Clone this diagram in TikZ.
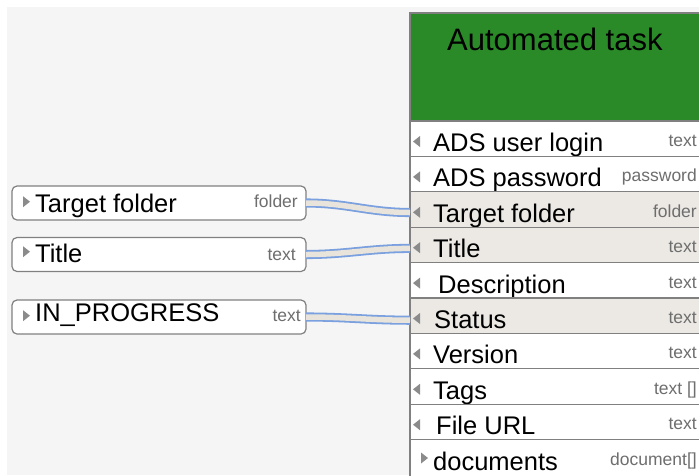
\documentclass[tikz,border=0pt]{standalone}
\usepackage{fontspec}
\setmainfont{Liberation Sans}
\usetikzlibrary{calc}

\definecolor{taskgreen}{RGB}{42,138,40}
\definecolor{canvas}{RGB}{245,245,245}
\definecolor{rowshade}{RGB}{236,233,229}
\definecolor{linegray}{RGB}{128,128,128}
\definecolor{typegray}{RGB}{110,110,110}
\definecolor{wireblue}{RGB}{122,160,224}
\definecolor{wirefill}{RGB}{232,228,220}

\begin{document}
\begin{tikzpicture}[x=1pt, y=-1pt,
    inbox/.style={draw=linegray, line width=1.2pt, rounded corners=5pt, fill=white,
                  minimum width=294pt, minimum height=34pt, anchor=north west, outer sep=0pt},
    rowbox/.style={draw=linegray, line width=1.2pt, minimum width=310pt, minimum height=35.4pt,
                   anchor=north west, outer sep=0pt, inner sep=0pt},
    label/.style={font=\fontsize{25.5}{28}\selectfont, inner sep=0pt, anchor=base west},
    type/.style={font=\fontsize{17.5}{19}\selectfont, text=typegray, inner sep=0pt, anchor=base east},
    tri/.style={fill=typegray!80},
    wire/.style={draw=wireblue, line width=1.8pt, double=wirefill, double distance=5.5pt}
]
    \useasboundingbox (0,0) rectangle (699,475);
    \clip (0,0) rectangle (699,475);
    \fill[white] (0,0) rectangle (699,475);
    \fill[canvas] (7,7) rectangle (699,475);

    % task panel
    \node[rowbox, fill=taskgreen, draw=linegray, minimum height=108pt] (head) at (410,13) {};
    \node[font=\fontsize{31}{34}\selectfont, inner sep=0pt, anchor=base west] (headlabel) at (447,50) {Automated task};

    \foreach \i/\lab/\typ/\sh/\dx [evaluate=\i as \top using 121+35.4*(\i-1)] in
        {1/ADS user login/text/white/0,
         2/ADS password/password/white/0,
         3/Target folder/folder/rowshade/0,
         4/Title/text/rowshade/0,
         5/Description/text/white/5,
         6/Status/text/rowshade/1,
         7/Version/text/white/0,
         8/Tags/{text []}/white/0,
         9/File URL/text/white/3,
         10/documents/{document[]}/white/0} {
        \node[rowbox, fill=\sh, minimum height=35.4pt+(\i==10)*10pt] (r\i) at (410,\top) {};
        \node[label] (r\i label) at (433+\dx,\top+30.5) {\lab};
        \node[type] (r\i type) at (697,\top+25.5) {\typ};
    }
    % input arrows
    \foreach \i in {1,...,9}
        \fill[tri] (413,121+35.4*\i-35.4+20.5) -- ++(7,-5.5) -- ++(0,11) -- cycle;
    \fill[tri] (421,452.5) -- ++(0,11) -- ++(7,-5.5) -- cycle;

    % inputs
    \node[inbox] (tf) at (12,186) {};
    \node[inbox] (ti) at (12,237.5) {};
    \node[inbox] (ip) at (12,300) {};
    \node[label] (tflabel) at (35,212.3) {Target folder};
    \node[label] (tilabel) at (35,262) {Title};
    \node[label] (iplabel) at (35,321.7) {IN\_PROGRESS};
    \node[type] (tftype) at (298,207.5) {folder};
    \node[type] (titype) at (296,260) {text};
    \node[type] (iptype) at (301,321.5) {text};
    \fill[tri] (23,196.2) -- ++(0,11) -- ++(7,-5.5) -- cycle;
    \fill[tri] (23,246.2) -- ++(0,11) -- ++(7,-5.5) -- cycle;
    \fill[tri] (23,310.2) -- ++(0,11) -- ++(7,-5.5) -- cycle;

    \draw[wire] (tf.east) to[out=0, in=180] ($(r3.west)+(0,1.5)$);
    \draw[wire] (ti.east) to[out=0, in=180] ($(r4.west)+(0,1.5)$);
    \draw[wire] (ip.east) to[out=0, in=180] ($(r6.west)+(0,1.5)$);
\end{tikzpicture}
\end{document}
